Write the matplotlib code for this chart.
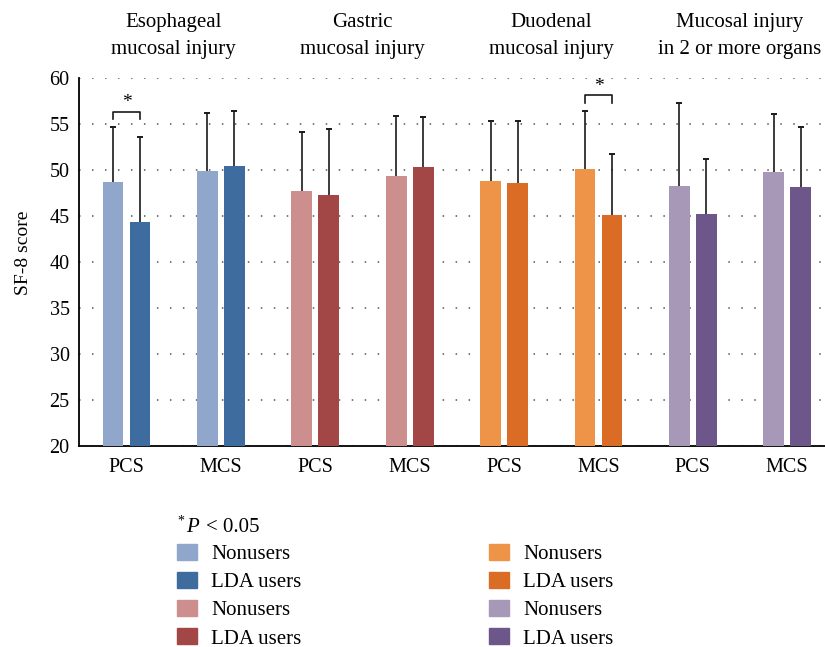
import matplotlib
matplotlib.use("Agg")
import matplotlib.pyplot as plt
from matplotlib.patches import Patch
from matplotlib.transforms import blended_transform_factory
import numpy as np

plt.rcParams['font.family'] = ['Liberation Serif', 'DejaVu Serif']

groups = ["Esophageal\nmucosal injury", "Gastric\nmucosal injury",
          "Duodenal\nmucosal injury", "Mucosal injury\nin 2 or more organs"]
tick_labels = ["PCS", "MCS"] * 4
nonusers = [48.7, 49.9, 47.7, 49.3, 48.8, 50.1, 48.2, 49.8]
nonusers_err = [5.9, 6.3, 6.4, 6.5, 6.5, 6.3, 9.0, 6.2]
lda_users = [44.3, 50.4, 47.3, 50.3, 48.6, 45.1, 45.2, 48.1]
lda_err = [9.2, 6.0, 7.1, 5.4, 6.7, 6.6, 6.0, 6.5]
significant = [0, 5]  # indices with P < 0.05

light_colors = ["#91A6CB", "#CC8F8E", "#EE9448", "#A898B8"]
dark_colors = ["#3E6C9E", "#A34746", "#DB6C25", "#6D5689"]

fig = plt.figure(figsize=(8.25, 6.47), dpi=100)
ax = fig.add_axes([0.0961, 0.3107, 0.9039, 0.5693])

x = np.arange(len(nonusers))
w = 0.22
off = 0.143
lc = [light_colors[i // 2] for i in x]
dc = [dark_colors[i // 2] for i in x]

ax.bar(x - off, nonusers, width=w, color=lc, zorder=3)
ax.bar(x + off, lda_users, width=w, color=dc, zorder=3)
for vals, errs, sign in [(nonusers, nonusers_err, -1), (lda_users, lda_err, 1)]:
    eb = ax.errorbar(x + sign * off, vals, yerr=[np.zeros(len(x)), errs], fmt='none',
                     ecolor='#1a1a1a', elinewidth=1.2, capsize=2.2, capthick=1.4, zorder=4)
    eb[1][0].set_visible(False)

for i in significant:
    top = max(nonusers[i] + nonusers_err[i], lda_users[i] + lda_err[i]) + 1.7
    ax.plot([i - off, i - off, i + off, i + off], [top - 0.8, top, top, top - 0.8],
            color='#1a1a1a', lw=1.2, zorder=4)
    ax.text(i, top + 0.05, "*", ha='center', va='bottom', fontsize=14)

ax.set_ylim(20, 60)
ax.set_xlim(-0.5, 7.4)
ax.set_yticks(np.arange(20, 61, 5))
ax.set_xticks(x)
ax.set_xticklabels(tick_labels)
ax.tick_params(axis='both', length=0, labelsize=14.5)
ax.tick_params(axis='y', pad=7)
ax.tick_params(axis='x', pad=9)
ax.yaxis.grid(True, linestyle=(0, (1, 7.5)), color='#555555', lw=1.1, zorder=0)
ax.set_axisbelow(True)
for s in ['top', 'right']:
    ax.spines[s].set_visible(False)
for s in ['left', 'bottom']:
    ax.spines[s].set_linewidth(1.3)
ax.set_ylabel("SF-8 score", fontsize=14)
ax.yaxis.set_label_coords(-0.064, 0.525)

trans = blended_transform_factory(ax.transData, fig.transFigure)
for g, label in enumerate(groups):
    l1, l2 = label.split("\n")
    xc = 2 * g + 0.5
    ax.text(xc, 1 - 27 / 647, l1, transform=trans, ha='center', va='baseline', fontsize=15)
    ax.text(xc, 1 - 54 / 647, l2, transform=trans, ha='center', va='baseline', fontsize=15)

# significance note
fig.text(177 / 825, 1 - 521 / 647, "*", fontsize=10, ha='left', va='center')
fig.text(186 / 825, 1 - 532 / 647, "P", fontsize=15, style='italic', ha='left', va='baseline')
fig.text(206 / 825, 1 - 532 / 647, "< 0.05", fontsize=15, ha='left', va='baseline')

leg_kw = dict(frameon=False, fontsize=15, handlelength=0.95, handleheight=0.8,
              handletextpad=0.7, labelspacing=0.38, borderpad=0, borderaxespad=0)
h1 = [Patch(color=light_colors[0]), Patch(color=dark_colors[0]),
      Patch(color=light_colors[1]), Patch(color=dark_colors[1])]
h2 = [Patch(color=light_colors[2]), Patch(color=dark_colors[2]),
      Patch(color=light_colors[3]), Patch(color=dark_colors[3])]
labs = ["Nonusers", "LDA users", "Nonusers", "LDA users"]
fig.legend(h1, labs, loc='upper left', bbox_to_anchor=(177 / 825, 1 - 544 / 647), **leg_kw)
fig.legend(h2, labs, loc='upper left', bbox_to_anchor=(489 / 825, 1 - 544 / 647), **leg_kw)

fig.savefig("out.png", dpi=100)
